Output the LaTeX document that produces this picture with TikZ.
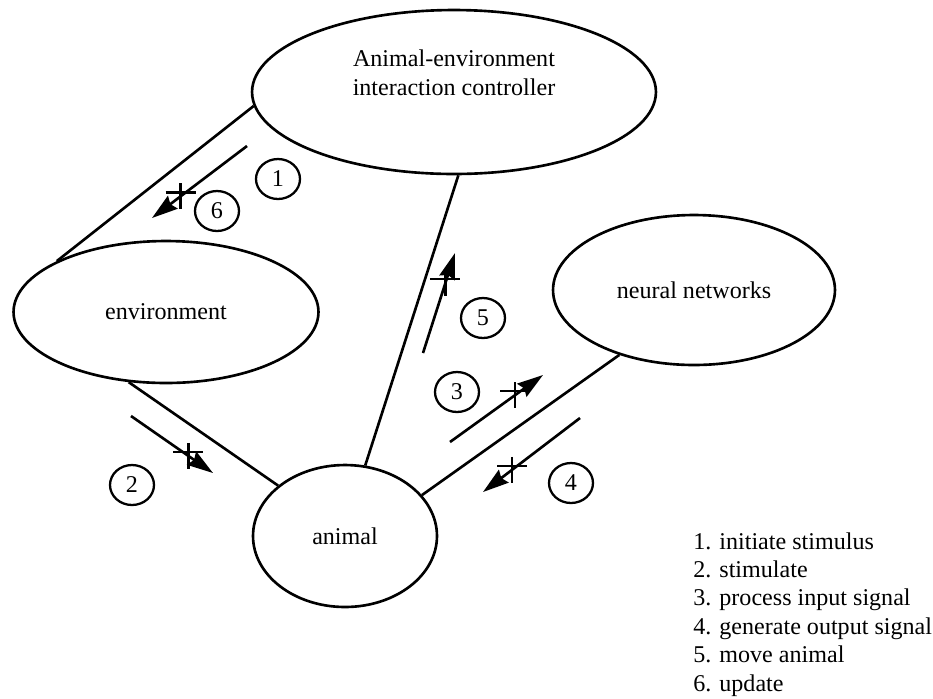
\documentclass[tikz,border=0pt]{standalone}
\usepackage{fontspec}
\setmainfont{Liberation Serif}
\usetikzlibrary{shapes.geometric, arrows.meta}

\begin{document}
\begin{tikzpicture}[x=0.02cm, y=-0.02cm,
        every node/.style={font=\fontsize{13.7}{16.4}\selectfont},
        blob/.style={draw, ellipse, line width=1.5pt, inner sep=0pt, align=center},
        link/.style={line width=1.5pt},
        msg/.style={line width=1.5pt, -{Stealth[length=5.2mm, width=3.2mm, inset=0.6mm]}},
        num/.style={draw, ellipse, line width=1.3pt, minimum width=0.88cm, minimum height=0.8cm, inner sep=0pt},
        xmark/.pic={\draw[line width=1.4pt] (-15, -4)--(15, -4) (0, -13)--(0, 13);}]
            \path[use as bounding box, fill=white] (0, 0) rectangle (933, 698);

            \node[blob, minimum width=8.08cm, minimum height=3.28cm] (ctrl) at (454, 92) {Animal-environment\\interaction controller\\[6pt]};
            \node[blob, minimum width=6.1cm, minimum height=2.84cm] (env) at (166, 312) {environment};
            \node[blob, minimum width=5.64cm, minimum height=3cm] (nn) at (694, 290) {neural networks};
            \node[blob, minimum width=3.68cm, minimum height=2.84cm] (animal) at (345, 536) {animal};

            \draw[link] (ctrl.184) -- (env.155);
            \draw[link] (ctrl.273) -- (animal.74);
            \draw[link] (env.242) -- (animal.143);
            \draw[link] (nn.221) -- (animal.28);

            \coordinate (m16-a) at (247, 146);
            \coordinate (m16-b) at (152, 218);
            \coordinate (m2-a) at (131, 416);
            \coordinate (m2-b) at (213, 473);
            \coordinate (m3-a) at (450, 442);
            \coordinate (m3-b) at (543, 375);
            \coordinate (m4-a) at (580, 418);
            \coordinate (m4-b) at (483, 492);
            \coordinate (m5-a) at (423, 353);
            \coordinate (m5-b) at (455, 253);

            \foreach \m in {m16, m2, m3, m4, m5}
                {
                    \draw[msg] (\m-a) -- (\m-b) coordinate[pos=0.7] (\m-x);
                    \pic at (\m-x) {xmark};
                }

            \foreach \i/\x/\y in {1/278/179, 2/132/485, 3/457/392, 4/571/483, 5/483/318, 6/217/211}
                {
                    \node[num] (c\i) at (\x, \y) {\i};
                }

            \foreach \i/\t in {1/initiate stimulus, 2/stimulate, 3/process input signal,
                4/generate output signal, 5/move animal, 6/update}
                {
                    \node[anchor=base west, inner sep=0pt] (item\i) at (693, {549+(\i-1)*28.4}) {\i. \t};
                }
        \end{tikzpicture}
\end{document}
